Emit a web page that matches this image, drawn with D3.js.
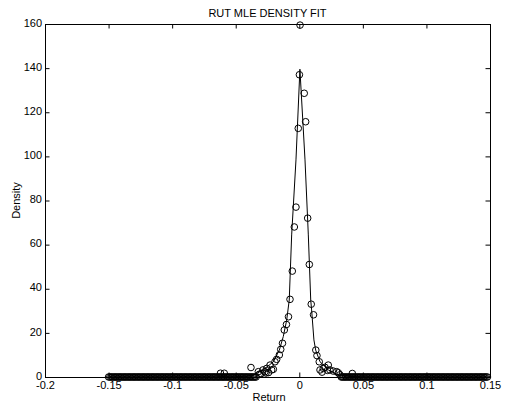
<!DOCTYPE html>
<html>
<head>
<meta charset="utf-8">
<script src="https://cdn.jsdelivr.net/npm/d3@7"></script>
<style>
  body { margin: 0; background: #fff; }
  svg { display: block; }
  text { font-family: "Liberation Sans", Arial, sans-serif; fill: #000; }
</style>
</head>
<body>
<div id="chart"></div>
<script>
// ----------------------
// Data
// ----------------------
const xTicks = [-0.2, -0.15, -0.1, -0.05, 0, 0.05, 0.1, 0.15];
const xTickLabels = ["-0.2", "-0.15", "-0.1", "-0.05", "0", "0.05", "0.1", "0.15"];
const yTicks = [0, 20, 40, 60, 80, 100, 120, 140, 160];

// empirical density (circles) near the peak
const histX = [-0.062, -0.059, -0.038, -0.0322, -0.0316, -0.030, -0.0286, -0.027, -0.0262, -0.0256,
  -0.0242, -0.023, -0.0217, -0.0204, -0.0191, -0.0178, -0.0157, -0.0146, -0.0132, -0.0118,
  -0.0101, -0.0085, -0.0073, -0.0055, -0.0039, -0.0026, -0.0008, 0.0001, 0.0006, 0.0039,
  0.005, 0.0066, 0.0079, 0.0094, 0.0112, 0.013, 0.0139, 0.0157, 0.0163, 0.0179,
  0.0189, 0.0202, 0.0222, 0.0228, 0.0241, 0.0267, 0.0294, 0.0307, 0.032, 0.0417];
const histY = [1.7, 1.7, 4.3, 2.4, 1.2, 1.5, 3.2, 2.4, 1.8, 3.9,
  2.0, 5.4, 3.2, 3.5, 6.9, 8.0, 10, 12.5, 15.3, 21.3,
  23.8, 27.3, 35.2, 48, 68, 77, 112.7, 137, 159.5, 128.6,
  115.7, 72, 51, 33, 28.2, 12.2, 9.7, 6.9, 3.2, 2.2,
  3.9, 4.4, 3.0, 5.4, 3.2, 2.7, 2.4, 1.9, 1.0, 1.6];

// empty bins in the tails (density 0), bin width 0.001
const emptyBinsLeft = d3.range(-0.150, -0.033, 0.001);
const emptyBinsRight = d3.range(0.033, 0.1485, 0.001);

// fitted MLE density (line)
const fitX = [-0.15, -0.05, -0.04, -0.0362, -0.0283, -0.0204, -0.0157, -0.0126, -0.0099, -0.0079,
  -0.006, -0.0026, 0.0005, 0.0045, 0.0071, 0.009, 0.0097, 0.0115, 0.0129, 0.0163,
  0.0229, 0.0308, 0.04, 0.05, 0.15];
const fitY = [0, 0.1, 0.4, 0.9, 3.2, 6.9, 12.2, 18.3, 25.8, 34.9,
  64.4, 98.4, 139.5, 98.4, 64.4, 34.9, 30.4, 16.8, 12.2, 6.9,
  3.2, 0.9, 0.3, 0.1, 0];

// ----------------------
// Setup
// ----------------------
const W = 506, H = 407;
const margin = { top: 24, right: 16, bottom: 30, left: 45 };

const svg = d3.select("#chart").append("svg")
  .attr("width", W)
  .attr("height", H);

const x = d3.scaleLinear().domain([-0.2, 0.15]).range([margin.left, W - margin.right]);
const y = d3.scaleLinear().domain([0, 160]).range([H - margin.bottom, margin.top]);

const points = histX.map((d, i) => ({ x: d, y: histY[i] }))
  .concat(emptyBinsLeft.map(d => ({ x: d, y: 0 })))
  .concat(emptyBinsRight.map(d => ({ x: d, y: 0 })));

const fit = fitX.map((d, i) => ({ x: d, y: fitY[i] }));

// circles
svg.append("g")
  .selectAll("circle")
  .data(points)
  .join("circle")
  .attr("cx", d => x(d.x))
  .attr("cy", d => y(d.y))
  .attr("r", 3.3)
  .attr("fill", "none")
  .attr("stroke", "#000")
  .attr("stroke-width", 1);

// fitted line
svg.append("path")
  .datum(fit)
  .attr("fill", "none")
  .attr("stroke", "#000")
  .attr("stroke-width", 1)
  .attr("d", d3.line().x(d => x(d.x)).y(d => y(d.y)));

// ----------------------
// Axes (box, inward ticks)
// ----------------------
const tk = 4.5;
const fs = 11;

svg.append("g")
  .attr("transform", `translate(0,${H - margin.bottom})`)
  .call(d3.axisBottom(x).tickValues(xTicks)
    .tickFormat((d, i) => xTickLabels[i])
    .tickSizeInner(-tk).tickSizeOuter(0).tickPadding(4));

svg.append("g")
  .attr("transform", `translate(0,${margin.top})`)
  .call(d3.axisTop(x).tickValues(xTicks).tickFormat("")
    .tickSizeInner(-tk).tickSizeOuter(0));

const yAxis = svg.append("g")
  .attr("transform", `translate(${margin.left},0)`)
  .call(d3.axisLeft(y).tickValues(yTicks)
    .tickSizeInner(-tk).tickSizeOuter(0).tickPadding(3));

// nudge y labels up slightly, as in the reference
yAxis.selectAll(".tick text").attr("dy", "0.2em");

svg.append("g")
  .attr("transform", `translate(${W - margin.right},0)`)
  .call(d3.axisRight(y).tickValues(yTicks).tickFormat("")
    .tickSizeInner(-tk).tickSizeOuter(0));

svg.selectAll(".tick text").attr("font-size", fs).style("font-family", '"Liberation Sans", Arial, sans-serif');
svg.selectAll(".domain, .tick line").attr("stroke", "#000");

// ----------------------
// Labels
// ----------------------
svg.append("text")
  .attr("x", (margin.left + W - margin.right) / 2)
  .attr("y", 17)
  .attr("text-anchor", "middle")
  .attr("font-size", fs)
  .text("RUT MLE DENSITY FIT");

svg.append("text")
  .attr("x", 269)
  .attr("y", 401)
  .attr("text-anchor", "middle")
  .attr("font-size", fs)
  .text("Return");

svg.append("text")
  .attr("transform", `translate(17,${(margin.top + H - margin.bottom) / 2}) rotate(-90)`)
  .attr("text-anchor", "middle")
  .attr("dominant-baseline", "middle")
  .attr("font-size", fs)
  .text("Density");
</script>
</body>
</html>
